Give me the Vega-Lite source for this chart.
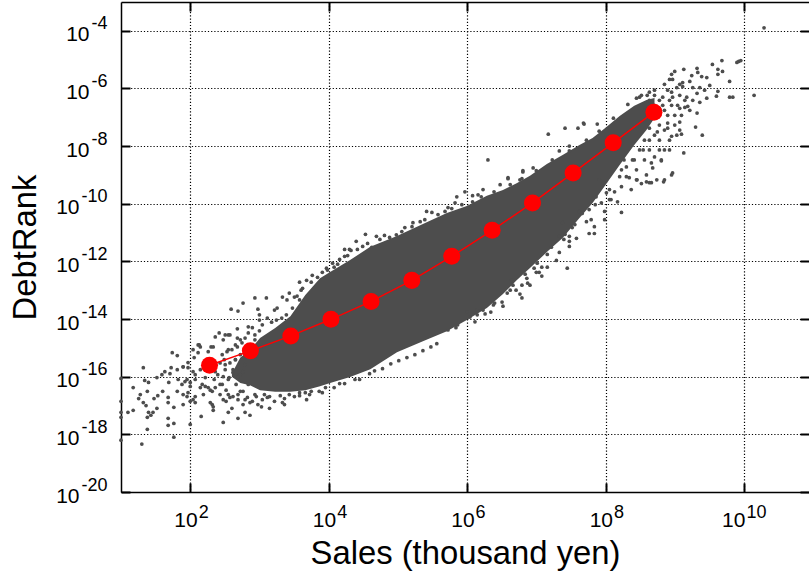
{
"$schema":"https://vega.github.io/schema/vega-lite/v6.json",
"width":688,"height":490,
"autosize":{"type":"none"},
"padding":{"left":121,"top":2,"right":0,"bottom":79},
"background":"white",
"view":{"stroke":null},
"config":{"font":"Liberation Sans","axis":{"labelColor":"black","titleColor":"black","titleFontWeight":"normal","labelFont":"Liberation Sans","titleFont":"Liberation Sans","domainColor":"black","tickColor":"black","labelOverlap":false,"labelFlush":false}},
"datasets":{
"band":[
{"sales":4.0e2,"upper":1.3e-16,"lower":1e-16},{"sales":5.3e2,"upper":4.6e-16,"lower":6e-17},{"sales":7.3e2,"upper":8.3e-16,"lower":5.1e-17},{"sales":1.02e3,"upper":2.2e-15,"lower":3.4e-17},{"sales":1.69e3,"upper":4.9e-15,"lower":3.0e-17},{"sales":2.8e3,"upper":1.26e-14,"lower":3.0e-17},{"sales":4.6e3,"upper":6.8e-14,"lower":3.4e-17},{"sales":7.5e3,"upper":2.6e-13,"lower":4.7e-17},{"sales":1.05e4,"upper":4.3e-13,"lower":6e-17},{"sales":2.04e4,"upper":1.12e-12,"lower":9.8e-17},{"sales":4.0e4,"upper":3.2e-12,"lower":1.8e-16},{"sales":9.7e4,"upper":7.6e-12,"lower":7.1e-16},{"sales":2.3e5,"upper":2.0e-11,"lower":1.7e-15},{"sales":5.1e5,"upper":4.8e-11,"lower":3.8e-15},{"sales":9.9e5,"upper":8.3e-11,"lower":9.3e-15},{"sales":1.93e6,"upper":1.9e-10,"lower":2.4e-14},{"sales":3.3e6,"upper":3.0e-10,"lower":7.4e-14},{"sales":5.2e6,"upper":5.2e-10,"lower":2.2e-13},{"sales":8.1e6,"upper":9.3e-10,"lower":5.9e-13},{"sales":1.42e7,"upper":2.4e-9,"lower":2.1e-12},{"sales":2.4e7,"upper":4.9e-9,"lower":6.5e-12},{"sales":4.2e7,"upper":1.1e-8,"lower":3.2e-11},{"sales":6.5e7,"upper":1.9e-8,"lower":1.07e-10},{"sales":1.0e8,"upper":4.3e-8,"lower":4.5e-10},{"sales":1.6e8,"upper":1.1e-7,"lower":2.2e-9},{"sales":2.6e8,"upper":2.5e-7,"lower":1.1e-8},{"sales":3.9e8,"upper":4e-7,"lower":3.6e-8},{"sales":5.1e8,"upper":4.7e-7,"lower":9.5e-8}
],
"mean":[
{"sales":1.9e2,"debtrank":2.5e-16},{"sales":7.4e2,"debtrank":7.9e-16},{"sales":2.84e3,"debtrank":2.6e-15},{"sales":1.08e4,"debtrank":9.8e-15},{"sales":4.1e4,"debtrank":4.1e-14},{"sales":1.59e5,"debtrank":2.2e-13},{"sales":6.0e5,"debtrank":1.5e-12},{"sales":2.3e6,"debtrank":1.2e-11},{"sales":8.8e6,"debtrank":1.07e-10},{"sales":3.4e7,"debtrank":1.17e-9},{"sales":1.29e8,"debtrank":1.3e-8},{"sales":5.0e8,"debtrank":1.5e-7}
],
"firms":[
{"sales":10,"debtrank":8.7e-17},{"sales":10,"debtrank":1.4e-17},{"sales":10,"debtrank":5.8e-18},{"sales":10,"debtrank":3.9e-18},{"sales":10,"debtrank":6.3e-19},{"sales":12.6,"debtrank":5.8e-18},{"sales":15,"debtrank":6.8e-18},{"sales":15,"debtrank":4.2e-17},{"sales":21,"debtrank":2.05e-16},{"sales":22,"debtrank":7.4e-17},{"sales":25,"debtrank":6.3e-17},{"sales":24,"debtrank":3.1e-17},{"sales":19,"debtrank":2.4e-17},{"sales":18,"debtrank":1.75e-17},{"sales":21,"debtrank":1.27e-17},{"sales":23,"debtrank":1e-17},{"sales":25,"debtrank":5.8e-18},{"sales":24,"debtrank":3.9e-18},{"sales":33,"debtrank":8e-18},{"sales":29,"debtrank":5.8e-18},{"sales":27,"debtrank":4.6e-18},{"sales":24,"debtrank":1.5e-18},{"sales":20,"debtrank":4.6e-19},{"sales":33,"debtrank":9.3e-17},{"sales":39,"debtrank":1.17e-16},{"sales":43,"debtrank":1.5e-16},{"sales":51,"debtrank":1.27e-16},{"sales":53,"debtrank":2.05e-16},{"sales":65,"debtrank":1.75e-16},{"sales":55,"debtrank":6.8e-16},{"sales":65,"debtrank":5.4e-16},{"sales":49,"debtrank":6.3e-17},{"sales":40,"debtrank":3.1e-17},{"sales":34,"debtrank":2.2e-17},{"sales":30,"debtrank":1.75e-17},{"sales":48,"debtrank":1.9e-17},{"sales":48,"debtrank":1.27e-17},{"sales":58,"debtrank":8.7e-18},{"sales":48,"debtrank":3.6e-18},{"sales":48,"debtrank":2.05e-18},{"sales":58,"debtrank":2.4e-18},{"sales":58,"debtrank":8e-19},{"sales":79,"debtrank":2.2e-16},{"sales":93,"debtrank":3.1e-16},{"sales":67,"debtrank":8e-17},{"sales":76,"debtrank":5.4e-17},{"sales":90,"debtrank":8e-17},{"sales":100,"debtrank":4.6e-17},{"sales":65,"debtrank":3.1e-17},{"sales":79,"debtrank":2.4e-17},{"sales":93,"debtrank":2.8e-17},{"sales":79,"debtrank":1.08e-17},{"sales":100,"debtrank":1.4e-17},{"sales":100,"debtrank":2.2e-18},{"sales":110,"debtrank":8.7e-16},{"sales":130,"debtrank":1.27e-15},{"sales":114,"debtrank":4.6e-16},{"sales":144,"debtrank":4.2e-18},{"sales":118,"debtrank":2.05e-17},{"sales":118,"debtrank":1.27e-17},{"sales":208,"debtrank":1.08e-17},{"sales":215,"debtrank":6.8e-18},{"sales":300,"debtrank":1.6e-17},{"sales":300,"debtrank":2.6e-18},{"sales":400,"debtrank":8e-18},{"sales":230,"debtrank":2.4e-15},{"sales":262,"debtrank":3.3e-15},{"sales":300,"debtrank":1.9e-15},{"sales":200,"debtrank":1.08e-15},
{"sales":140,"debtrank":1.75e-16},{"sales":165,"debtrank":9.3e-17},{"sales":118,"debtrank":1.17e-16},{"sales":149,"debtrank":5.4e-17},{"sales":182,"debtrank":4.2e-17},{"sales":222,"debtrank":8e-17},{"sales":250,"debtrank":1.17e-16},{"sales":290,"debtrank":5.4e-17},{"sales":330,"debtrank":3.4e-17},{"sales":365,"debtrank":9.3e-17},{"sales":415,"debtrank":1.75e-16},{"sales":460,"debtrank":5.4e-17},{"sales":530,"debtrank":1.17e-16},{"sales":310,"debtrank":3.9e-16},{"sales":355,"debtrank":8.7e-16},{"sales":450,"debtrank":1.27e-15},{"sales":530,"debtrank":5.8e-16},{"sales":620,"debtrank":2.2e-15},{"sales":620,"debtrank":2.6e-16},{"sales":580,"debtrank":3.1e-17},{"sales":690,"debtrank":5.4e-17},{"sales":208,"debtrank":3.1e-17},{"sales":270,"debtrank":2.4e-17},{"sales":375,"debtrank":1.9e-17},{"sales":490,"debtrank":1.6e-17},{"sales":670,"debtrank":1.9e-17},{"sales":790,"debtrank":1.4e-17},{"sales":950,"debtrank":1.08e-17},{"sales":1100,"debtrank":1.6e-17},{"sales":1300,"debtrank":1.9e-17},{"sales":1650,"debtrank":1.4e-17},{"sales":2300,"debtrank":1.75e-17},{"sales":3200,"debtrank":2.05e-17},{"sales":355,"debtrank":5.8e-18},{"sales":620,"debtrank":5.8e-18},{"sales":730,"debtrank":4.6e-18},{"sales":490,"debtrank":3.6e-18},{"sales":1400,"debtrank":8e-18},{"sales":2300,"debtrank":1.08e-17},{"sales":3800,"debtrank":2.2e-17},{"sales":5300,"debtrank":2.4e-17},{"sales":7300,"debtrank":3.1e-17},{"sales":1.2e4,"debtrank":4.2e-17},{"sales":1.7e4,"debtrank":5.8e-17},{"sales":2.8e4,"debtrank":8e-17},
{"sales":4.6e4,"debtrank":1.6e-16},{"sales":6e4,"debtrank":1.9e-16},{"sales":7.9e4,"debtrank":2.8e-16},{"sales":1.03e5,"debtrank":3.6e-16},{"sales":1.35e5,"debtrank":4.6e-16},{"sales":1.76e5,"debtrank":5.8e-16},{"sales":2.3e5,"debtrank":8e-16},{"sales":3e5,"debtrank":1.08e-15},{"sales":3.65e5,"debtrank":1.4e-15},
{"sales":860,"debtrank":5.4e-14},{"sales":1260,"debtrank":5.4e-14},{"sales":580,"debtrank":3.6e-14},{"sales":390,"debtrank":2.2e-14},{"sales":490,"debtrank":1.9e-14},{"sales":950,"debtrank":2.2e-14},{"sales":1000,"debtrank":1.4e-14},{"sales":1800,"debtrank":2.4e-14},{"sales":1650,"debtrank":2.05e-14},{"sales":2150,"debtrank":5.8e-14},{"sales":2500,"debtrank":4.6e-14},{"sales":2700,"debtrank":8e-14},{"sales":320,"debtrank":2.8e-15},{"sales":375,"debtrank":2.8e-15},{"sales":480,"debtrank":4.6e-15},{"sales":690,"debtrank":5.4e-15},{"sales":690,"debtrank":3.3e-15},{"sales":1000,"debtrank":9.2e-15},{"sales":1300,"debtrank":1.08e-14},{"sales":1760,"debtrank":9.2e-15},{"sales":2450,"debtrank":1.4e-14},{"sales":3800,"debtrank":1.9e-13},{"sales":4800,"debtrank":2.2e-13},{"sales":5800,"debtrank":3.3e-13},{"sales":8100,"debtrank":4.2e-13},{"sales":1.14e4,"debtrank":8.7e-13},{"sales":1.7e4,"debtrank":2.6e-12},{"sales":2e4,"debtrank":2.6e-12},{"sales":2.5e4,"debtrank":5e-12},{"sales":1.7e4,"debtrank":1.5e-12},{"sales":9300,"debtrank":5.8e-13},{"sales":4000,"debtrank":1e-13},{"sales":3200,"debtrank":5.8e-14},{"sales":135,"debtrank":1.27e-15},{"sales":2.1e4,"debtrank":2.4e-12},{"sales":3.4e4,"debtrank":8.7e-12},{"sales":4.9e4,"debtrank":7.4e-12},{"sales":6.4e4,"debtrank":8e-12},{"sales":9.5e4,"debtrank":8.4e-12},{"sales":1.26e5,"debtrank":1.5e-11},{"sales":1.65e5,"debtrank":2.2e-11},{"sales":2.1e5,"debtrank":2.4e-11},{"sales":2.6e5,"debtrank":5.4e-11},{"sales":3.1e5,"debtrank":5e-11},{"sales":4.8e5,"debtrank":5.4e-11},{"sales":5.3e5,"debtrank":7.4e-11},{"sales":6.7e5,"debtrank":1.08e-10},{"sales":7.1e5,"debtrank":1.75e-10},{"sales":9.3e5,"debtrank":2.6e-10},{"sales":1.2e6,"debtrank":1.9e-10},{"sales":1.44e6,"debtrank":2.05e-10},{"sales":1.7e6,"debtrank":3.1e-10},{"sales":3e6,"debtrank":4.6e-10},{"sales":3.9e6,"debtrank":8e-10},{"sales":5.8e6,"debtrank":6.8e-10},{"sales":6.4e6,"debtrank":1.27e-9},{"sales":1.2e4,"debtrank":6.3e-13},{"sales":1.44e4,"debtrank":1.17e-12},{"sales":3.1e4,"debtrank":3.3e-12},{"sales":4.2e4,"debtrank":3.1e-12},
{"sales":1e6,"debtrank":1.75e-14},{"sales":1.7e6,"debtrank":2.05e-14},{"sales":1.82e6,"debtrank":1.5e-14},{"sales":2.4e6,"debtrank":3.1e-14},{"sales":3.2e6,"debtrank":3.9e-14},{"sales":3.3e6,"debtrank":2.8e-14},{"sales":3.8e6,"debtrank":8e-14},{"sales":4.6e6,"debtrank":1.5e-13},{"sales":6.2e6,"debtrank":1.5e-13},{"sales":6.2e6,"debtrank":5.4e-14},{"sales":5.8e6,"debtrank":7.4e-14},{"sales":7.3e6,"debtrank":2.6e-13},{"sales":7.5e6,"debtrank":1.75e-13},{"sales":4.4e6,"debtrank":2.2e-13},{"sales":1.4e6,"debtrank":2.05e-14},{"sales":1.1e6,"debtrank":1.17e-14},{"sales":7.3e5,"debtrank":6.3e-15},{"sales":5.3e5,"debtrank":4.2e-15},
{"sales":1.49e7,"debtrank":2.6e-8},{"sales":2.6e7,"debtrank":4.2e-8},{"sales":4e7,"debtrank":4.2e-8},{"sales":4.8e7,"debtrank":6.3e-8},{"sales":7.6e7,"debtrank":5.8e-8},{"sales":2e6,"debtrank":3.3e-9},{"sales":6.4e6,"debtrank":1.4e-9},{"sales":2.15e7,"debtrank":6.8e-9},{"sales":3e7,"debtrank":1e-8},{"sales":3.9e6,"debtrank":7.4e-10},{"sales":9e6,"debtrank":1.75e-9},
{"sales":1.7e8,"debtrank":5e-11},{"sales":9.7e7,"debtrank":5.4e-11},{"sales":9.7e7,"debtrank":2.8e-11},{"sales":6.9e7,"debtrank":1.6e-11},{"sales":6.9e7,"debtrank":9.3e-12},{"sales":5.8e7,"debtrank":9.3e-12},{"sales":5.3e7,"debtrank":2.4e-11},{"sales":3.8e7,"debtrank":6.3e-12},{"sales":3e7,"debtrank":5e-12},{"sales":3e7,"debtrank":3.3e-12},{"sales":2.15e7,"debtrank":2.05e-12},{"sales":1.95e7,"debtrank":1.08e-12},{"sales":1.44e7,"debtrank":6.3e-13},{"sales":1.2e7,"debtrank":6.3e-13},{"sales":1e7,"debtrank":4.2e-13},{"sales":1.2e7,"debtrank":3.1e-13},{"sales":2.8e7,"debtrank":5.8e-13},{"sales":8.7e7,"debtrank":1.08e-10},{"sales":1.2e8,"debtrank":1.4e-10},{"sales":1.49e8,"debtrank":1.17e-10},{"sales":1.35e8,"debtrank":2.6e-10},{"sales":1.7e8,"debtrank":3.9e-10},{"sales":2.2e8,"debtrank":8e-10},{"sales":2.8e8,"debtrank":6.8e-10},{"sales":3.3e8,"debtrank":5e-10},{"sales":3.9e8,"debtrank":5.8e-10},{"sales":4.6e8,"debtrank":5.4e-10},{"sales":5.5e8,"debtrank":6.8e-10},{"sales":7.1e8,"debtrank":6.8e-10},{"sales":9.3e8,"debtrank":1.17e-9},{"sales":9e8,"debtrank":1e-9},{"sales":6.4e8,"debtrank":3.3e-9},{"sales":4.8e8,"debtrank":1.75e-9},{"sales":3.65e8,"debtrank":3.3e-9},{"sales":2.8e8,"debtrank":1.5e-9},{"sales":2e8,"debtrank":1.9e-9},{"sales":2e8,"debtrank":8.7e-10},{"sales":6.2e7,"debtrank":2.8e-11},{"sales":4.2e7,"debtrank":5.4e-11},{"sales":2.4e7,"debtrank":2.2e-11},{"sales":2.15e7,"debtrank":7.4e-12},{"sales":1.7e7,"debtrank":4.6e-12},{"sales":3e7,"debtrank":7.4e-12},{"sales":7.3e7,"debtrank":1.75e-10},{"sales":1.03e8,"debtrank":2.4e-10},
{"sales":1.95e10,"debtrank":1.27e-4},{"sales":1.4e10,"debtrank":5.8e-7},{"sales":8.4e9,"debtrank":8.7e-6},{"sales":9e9,"debtrank":9.3e-6},{"sales":7.9e9,"debtrank":8e-6},{"sales":4.8e9,"debtrank":9.3e-6},{"sales":3.5e9,"debtrank":6.8e-6},{"sales":4.2e9,"debtrank":4.6e-6},{"sales":4.9e9,"debtrank":3.9e-6},{"sales":4.2e9,"debtrank":3.1e-6},{"sales":6.2e9,"debtrank":1.75e-6},{"sales":6.9e9,"debtrank":5e-7},{"sales":6.2e9,"debtrank":5e-7},{"sales":4e9,"debtrank":5.4e-7},{"sales":4.2e9,"debtrank":8e-7},{"sales":3.2e9,"debtrank":1.27e-6},{"sales":2.9e9,"debtrank":2.4e-6},{"sales":2.45e9,"debtrank":2.6e-6},{"sales":2.1e9,"debtrank":5e-6},{"sales":2.15e9,"debtrank":3.6e-6},{"sales":1.76e9,"debtrank":2.8e-6},{"sales":1.65e9,"debtrank":1.75e-6},{"sales":1.35e9,"debtrank":4.6e-6},{"sales":1e9,"debtrank":3.9e-6},{"sales":9e8,"debtrank":3.1e-6},{"sales":9.3e8,"debtrank":2.05e-6},{"sales":8.4e8,"debtrank":2.05e-6},{"sales":1.3e9,"debtrank":1.6e-6},{"sales":1.82e9,"debtrank":1.08e-6},{"sales":2.3e9,"debtrank":1.08e-6},{"sales":2.7e9,"debtrank":8.7e-7},{"sales":2.1e9,"debtrank":6.8e-7},{"sales":2.9e9,"debtrank":4.6e-7},{"sales":2.3e9,"debtrank":3.3e-7},{"sales":1.82e9,"debtrank":3.9e-7},{"sales":1.49e9,"debtrank":5e-7},{"sales":1.3e9,"debtrank":1.17e-6},{"sales":1.07e9,"debtrank":1.08e-6},{"sales":1.18e9,"debtrank":5.8e-7},{"sales":9.3e8,"debtrank":5e-7},{"sales":7.9e8,"debtrank":8.7e-7},{"sales":6.7e8,"debtrank":5e-7},{"sales":5.1e8,"debtrank":5.8e-7},{"sales":4e8,"debtrank":5.8e-7},{"sales":3.3e8,"debtrank":5.8e-7},{"sales":2.8e8,"debtrank":4.6e-7},{"sales":1.54e9,"debtrank":2.4e-7},{"sales":1.4e9,"debtrank":2.2e-7},{"sales":1.18e9,"debtrank":2.05e-7},{"sales":1.25e9,"debtrank":1.17e-7},{"sales":2.1e9,"debtrank":1.4e-7},{"sales":1e9,"debtrank":1.17e-7},{"sales":7.9e8,"debtrank":6.3e-8},{"sales":1.18e9,"debtrank":6.8e-8},{"sales":1.18e9,"debtrank":3.6e-8},{"sales":7.9e8,"debtrank":4.2e-8},{"sales":2e9,"debtrank":4.6e-8},{"sales":2.5e9,"debtrank":2.4e-8},{"sales":1.25e9,"debtrank":2.6e-8},{"sales":1.07e9,"debtrank":2.4e-8},{"sales":9e8,"debtrank":2.2e-8},{"sales":8.4e8,"debtrank":1.6e-8},{"sales":5.6e8,"debtrank":3.1e-8},{"sales":6e8,"debtrank":1.6e-8},{"sales":7.1e8,"debtrank":7.4e-9},{"sales":8.4e8,"debtrank":7.4e-9},{"sales":1.35e9,"debtrank":5.8e-9},{"sales":5.1e8,"debtrank":4.2e-9},{"sales":6.4e8,"debtrank":3.1e-9},{"sales":4.6e8,"debtrank":2.6e-9},{"sales":3.9e8,"debtrank":1e-9},{"sales":2.85e8,"debtrank":6.8e-10},{"sales":6.9e8,"debtrank":5.8e-10},{"sales":4.3e8,"debtrank":5.4e-10},{"sales":1.6e8,"debtrank":8.7e-10},{"sales":4.9e7,"debtrank":5.8e-8},
{"sales":79,"debtrank":2.2e-16},{"sales":93,"debtrank":2.05e-16},{"sales":110,"debtrank":1.5e-16},{"sales":84,"debtrank":6.8e-17},{"sales":100,"debtrank":6.3e-17},{"sales":118,"debtrank":8e-17},{"sales":140,"debtrank":4.2e-17},{"sales":165,"debtrank":4.6e-17},{"sales":195,"debtrank":3.4e-17},{"sales":230,"debtrank":4.2e-17},{"sales":270,"debtrank":5.4e-17},{"sales":300,"debtrank":1e-16},{"sales":355,"debtrank":8e-17},{"sales":415,"debtrank":1.4e-16},{"sales":490,"debtrank":1e-16},{"sales":580,"debtrank":1.5e-16},{"sales":320,"debtrank":1.75e-16},{"sales":375,"debtrank":3e-16},{"sales":450,"debtrank":3.9e-16},{"sales":270,"debtrank":3e-16},{"sales":290,"debtrank":5.8e-16},{"sales":340,"debtrank":7.4e-16},{"sales":400,"debtrank":8.7e-16},{"sales":480,"debtrank":1.08e-15},{"sales":560,"debtrank":1.5e-15},{"sales":215,"debtrank":1.08e-15},{"sales":182,"debtrank":7.4e-16},{"sales":140,"debtrank":1.08e-15},{"sales":130,"debtrank":6.8e-16},{"sales":355,"debtrank":2.8e-15},{"sales":480,"debtrank":2.2e-15},{"sales":1e3,"debtrank":3.9e-15},{"sales":90,"debtrank":2.05e-17},{"sales":110,"debtrank":1.6e-17},{"sales":155,"debtrank":2.4e-17},{"sales":195,"debtrank":1.27e-17},{"sales":215,"debtrank":9e-18},{"sales":330,"debtrank":1.4e-17},{"sales":415,"debtrank":2.05e-17},{"sales":490,"debtrank":2.4e-17},{"sales":580,"debtrank":1.08e-17},{"sales":730,"debtrank":1.27e-17},{"sales":900,"debtrank":2.05e-17},{"sales":1070,"debtrank":9e-18},{"sales":1400,"debtrank":2.05e-17},{"sales":2150,"debtrank":1.27e-17},{"sales":4800,"debtrank":1.6e-17},{"sales":8100,"debtrank":2.8e-17},{"sales":4600,"debtrank":2.8e-17},
{"sales":3.5e3,"debtrank":6.3e-14},{"sales":4.2e3,"debtrank":1.17e-13},{"sales":5.6e3,"debtrank":1.9e-13},{"sales":6.9e3,"debtrank":2.8e-13},{"sales":9.6e3,"debtrank":5e-13},{"sales":1.35e4,"debtrank":8e-13},{"sales":1.88e4,"debtrank":1.6e-12},{"sales":2.6e4,"debtrank":2.6e-12},{"sales":3.65e4,"debtrank":4.2e-12},{"sales":5.5e4,"debtrank":5.8e-12},{"sales":7.6e4,"debtrank":6.8e-12},{"sales":1.14e5,"debtrank":1.08e-11},{"sales":1.6e5,"debtrank":1.6e-11},{"sales":2.45e5,"debtrank":2.8e-11},{"sales":3.8e5,"debtrank":4.2e-11},{"sales":6e5,"debtrank":6.8e-11},{"sales":8.4e5,"debtrank":9.3e-11},{"sales":1.2e6,"debtrank":1.17e-10},{"sales":1.6e6,"debtrank":1.75e-10},{"sales":2.45e6,"debtrank":2.6e-10},{"sales":4.2e6,"debtrank":4.6e-10},{"sales":6.2e6,"debtrank":7.4e-10},{"sales":1e7,"debtrank":1.4e-9},{"sales":1.7e7,"debtrank":3.3e-9},{"sales":3e7,"debtrank":6.8e-9},{"sales":5.3e7,"debtrank":1.6e-8},{"sales":8.1e7,"debtrank":3.3e-8},{"sales":1.3e8,"debtrank":9.3e-8},{"sales":2.1e8,"debtrank":2.8e-7},{"sales":3.1e8,"debtrank":5e-7},
{"sales":6.9e5,"debtrank":5e-15},{"sales":1.4e6,"debtrank":1.4e-14},{"sales":2.5e6,"debtrank":3.6e-14},{"sales":4.2e6,"debtrank":1e-13},{"sales":6.9e6,"debtrank":3.6e-13},{"sales":1.03e7,"debtrank":8.7e-13},{"sales":1.65e7,"debtrank":3.1e-12},{"sales":2.6e7,"debtrank":8.7e-12},{"sales":3.3e7,"debtrank":1.5e-11},{"sales":4.6e7,"debtrank":4.6e-11},{"sales":7.1e7,"debtrank":9.3e-11},{"sales":1.14e8,"debtrank":3.1e-10},{"sales":1.7e8,"debtrank":1.5e-9},{"sales":2.45e8,"debtrank":3.3e-9},{"sales":3.5e8,"debtrank":7.4e-9},{"sales":4.3e8,"debtrank":1.6e-8},{"sales":6e8,"debtrank":5.4e-8},{"sales":4.3e8,"debtrank":4.2e-8},{"sales":7.1e8,"debtrank":1.75e-7},{"sales":5.1e8,"debtrank":2.6e-7},{"sales":6e8,"debtrank":3.9e-7},{"sales":9e8,"debtrank":2.6e-7},{"sales":3.65e8,"debtrank":1.75e-7},
{"sales":4.3e8,"debtrank":3.9e-7},{"sales":5.1e8,"debtrank":8.7e-7},{"sales":6.7e8,"debtrank":2.6e-7},{"sales":7.9e8,"debtrank":1.17e-7},{"sales":6e8,"debtrank":1.17e-7},{"sales":1e9,"debtrank":5.4e-8},{"sales":7.1e8,"debtrank":3.6e-8},{"sales":5.1e8,"debtrank":2.4e-8},{"sales":3.65e8,"debtrank":1.6e-8},{"sales":4.3e8,"debtrank":7.4e-9},{"sales":6e8,"debtrank":7.4e-9},{"sales":3.1e8,"debtrank":7.4e-9},{"sales":2.6e8,"debtrank":3.3e-9},{"sales":1.85e8,"debtrank":3.3e-9},{"sales":6e8,"debtrank":2.05e-7},{"sales":8.4e8,"debtrank":3.9e-7},{"sales":1.1e9,"debtrank":2.6e-7},{"sales":1.4e9,"debtrank":3.9e-7},{"sales":1.65e9,"debtrank":1.75e-7},{"sales":9e8,"debtrank":7.4e-7},{"sales":1.18e9,"debtrank":1.4e-6},{"sales":7.1e8,"debtrank":1.4e-6},{"sales":4.3e8,"debtrank":7.4e-7},{"sales":1.14e8,"debtrank":1.4e-10},{"sales":2.35e8,"debtrank":3.1e-10},{"sales":8.1e7,"debtrank":6.8e-10},{"sales":5.8e7,"debtrank":6.3e-11},{"sales":3.6e7,"debtrank":1.9e-11},{"sales":2.5e7,"debtrank":5.8e-12},{"sales":1.44e7,"debtrank":1.75e-12},{"sales":9.3e6,"debtrank":5.8e-13},{"sales":1.1e7,"debtrank":4.2e-13},{"sales":5.1e6,"debtrank":1e-13},{"sales":8.1e6,"debtrank":1.5e-13},{"sales":2.2e6,"debtrank":1.75e-14},{"sales":1.3e6,"debtrank":8e-15},
{"sales":165,"debtrank":2.6e-16},{"sales":230,"debtrank":1.5e-16},{"sales":320,"debtrank":2.6e-16},{"sales":450,"debtrank":1.17e-16},{"sales":620,"debtrank":5.8e-16},{"sales":690,"debtrank":1.27e-15},{"sales":860,"debtrank":1.9e-15},{"sales":860,"debtrank":2.8e-15},{"sales":790,"debtrank":5e-15},{"sales":1100,"debtrank":6.3e-15},{"sales":1500,"debtrank":7.8e-15},{"sales":2100,"debtrank":1.08e-14},{"sales":3000,"debtrank":2.4e-14},{"sales":3800,"debtrank":4.6e-14},{"sales":530,"debtrank":1.9e-15},{"sales":450,"debtrank":3.9e-16},{"sales":355,"debtrank":2.4e-17},{"sales":530,"debtrank":3.1e-17},{"sales":620,"debtrank":1.6e-17},{"sales":860,"debtrank":2.4e-17},{"sales":1180,"debtrank":2.4e-17},{"sales":2000,"debtrank":2.2e-17},{"sales":2700,"debtrank":2.4e-17},{"sales":3800,"debtrank":2.8e-17},{"sales":5600,"debtrank":3.1e-17},{"sales":9000,"debtrank":4.2e-17},{"sales":1.44e4,"debtrank":5.8e-17},{"sales":2.4e4,"debtrank":8e-17},{"sales":3.9e4,"debtrank":1.27e-16}
]
},
"resolve":{"axis":{"x":"independent","y":"independent"}},
"layer":[
{"data":{"name":"band"},"mark":{"type":"area","color":"#4d4d4d","opacity":1,"clip":true},
"encoding":{
"x":{"field":"sales","type":"quantitative","scale":{"type":"log","domain":[10,8.7e10],"nice":false},
"axis":{"orient":"bottom","title":"Sales (thousand yen)","titleFontSize":32.8,"titlePadding":7,"values":[1e2,1e4,1e6,1e8,1e10],"labelExpr":"'10'","labelFontSize":21,"labelAlign":"right","labelOffset":7,"labelBaseline":"alphabetic","labelPadding":43,"tickSize":-9,"tickWidth":2,"domainWidth":1.5,"grid":true,"gridColor":"black","gridDash":[1.2,2],"gridWidth":1.2,"gridOpacity":1,"encoding":{"labels":{"dx":{"condition":{"test":"datum.value>=1e9","value":-6},"value":0}}}}},
"y":{"field":"lower","type":"quantitative","scale":{"type":"log","domain":[1e-20,1e-3],"nice":false},
"axis":{"orient":"left","title":"DebtRank","titleFontSize":32.8,"titlePadding":13,"values":[1e-20,1e-18,1e-16,1e-14,1e-12,1e-10,1e-8,1e-6,1e-4],"labelExpr":"'10'","labelFontSize":21,"labelAlign":"right","labelOffset":4,"labelPadding":51,"tickSize":-9,"tickWidth":2,"domainWidth":1.5,"grid":true,"gridColor":"black","gridDash":[1.2,2],"gridWidth":1.2,"gridOpacity":1,"encoding":{"labels":{"dx":{"condition":{"test":"datum.value>=0.9e-8","value":10},"value":0}}}}},
"y2":{"field":"upper"}}},
{"data":{"name":"firms"},"mark":{"type":"point","filled":true,"color":"#4d4d4d","opacity":1,"size":14,"clip":false},
"encoding":{
"x":{"field":"sales","type":"quantitative","scale":{"type":"log","domain":[10,8.7e10],"nice":false},
"axis":{"orient":"bottom","title":null,"values":[1e2,1e4,1e6,1e8,1e10],"labelExpr":"''+round(log(datum.value)/LN10)","labelFontSize":18,"labelAlign":"left","labelOffset":8,"labelBaseline":"alphabetic","labelPadding":25,"domain":false,"ticks":false,"grid":false,"encoding":{"labels":{"dx":{"condition":{"test":"datum.value>=1e9","value":-6},"value":0}}}}},
"y":{"field":"debtrank","type":"quantitative","scale":{"type":"log","domain":[1e-20,1e-3],"nice":false},
"axis":{"orient":"left","title":null,"values":[1e-20,1e-18,1e-16,1e-14,1e-12,1e-10,1e-8,1e-6,1e-4],"labelExpr":"''+round(log(datum.value)/LN10)","labelFontSize":18,"labelAlign":"right","labelOffset":-7,"labelPadding":14,"domain":false,"ticks":false,"grid":false}}}},
{"data":{"name":"mean"},"mark":{"type":"line","color":"#ff0000","strokeWidth":1.5},
"encoding":{
"x":{"field":"sales","type":"quantitative","scale":{"type":"log","domain":[10,8.7e10],"nice":false},
"axis":{"orient":"top","title":null,"values":[1e2,1e4,1e6,1e8,1e10],"labels":false,"tickSize":-9,"tickWidth":2,"domainWidth":1.5,"grid":false}},
"y":{"field":"debtrank","type":"quantitative","scale":{"type":"log","domain":[1e-20,1e-3],"nice":false},
"axis":{"orient":"right","title":null,"values":[1e-20,1e-18,1e-16,1e-14,1e-12,1e-10,1e-8,1e-6,1e-4],"labels":false,"tickSize":-9,"tickWidth":2,"domain":false,"grid":false}}}},
{"data":{"name":"mean"},"mark":{"type":"point","filled":true,"color":"#ff0000","opacity":1,"size":290},
"encoding":{
"x":{"field":"sales","type":"quantitative","scale":{"type":"log","domain":[10,8.7e10],"nice":false},"axis":null},
"y":{"field":"debtrank","type":"quantitative","scale":{"type":"log","domain":[1e-20,1e-3],"nice":false},"axis":null}}}
]
}
